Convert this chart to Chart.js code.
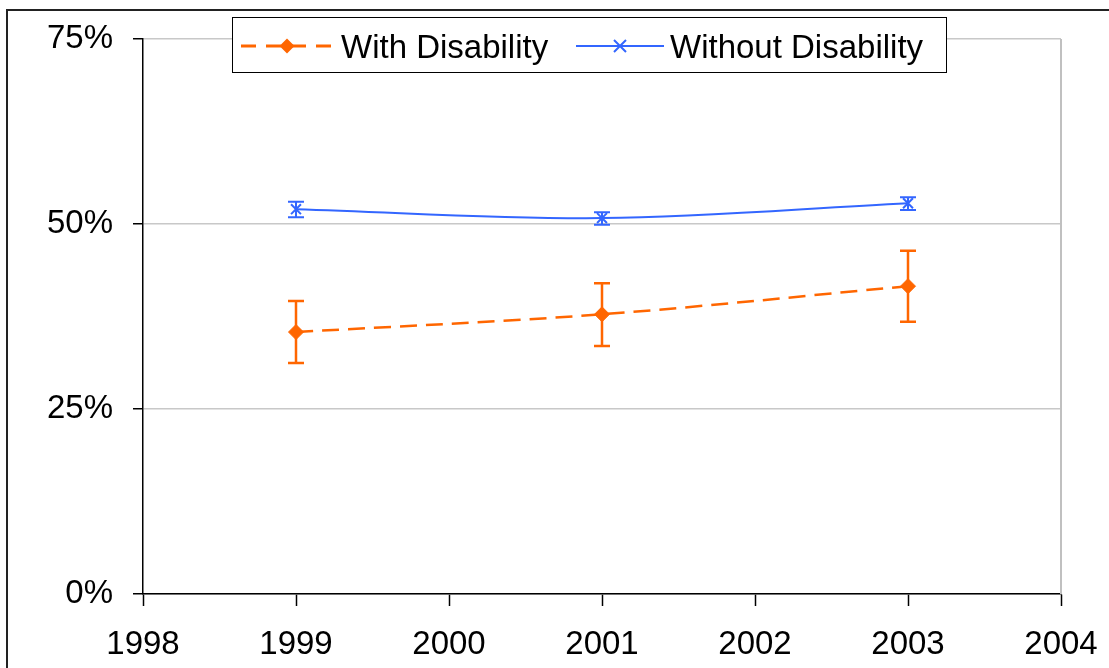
<!DOCTYPE html>
<html>
<head>
<meta charset="utf-8">
<script src="https://cdn.jsdelivr.net/npm/chart.js@4/dist/chart.umd.min.js"></script>
<style>
  html, body { margin: 0; padding: 0; background: #fff; overflow: hidden; }
  #wrap { position: relative; width: 1109px; height: 668px; }
</style>
</head>
<body>
<div id="wrap"><canvas id="c" width="1109" height="668"></canvas></div>
<script>
// Survey years and percentages (with 95% confidence limits)
const years = [1999, 2001, 2003];
const withDisability = [35.4, 37.8, 41.6];
const withLow = [31.2, 33.5, 36.8];
const withHigh = [39.6, 42.0, 46.4];
const withoutDisability = [52.0, 50.8, 52.8];
const withoutLow = [50.9, 49.9, 51.9];
const withoutHigh = [53.0, 51.6, 53.6];
const seriesNames = ['With Disability', 'Without Disability'];
const yTicks = [0, 25, 50, 75];
const xTicks = [1998, 1999, 2000, 2001, 2002, 2003, 2004];

const ORANGE = '#FF6600';
const BLUE = '#3366FF';
const FONT = '"Liberation Sans", Arial, Helvetica, sans-serif';

Chart.defaults.font.family = FONT;
Chart.defaults.font.size = 33;
Chart.defaults.color = '#000';

const toPoints = vals => years.map((yr, i) => ({ x: yr, y: vals[i] }));

// Vertical error bars with caps, drawn beneath the markers
const errorBars = {
  id: 'errorBars',
  beforeDatasetsDraw(chart) {
    const { ctx, scales: { x, y }, chartArea } = chart;
    ctx.save();
    // grey plot-area frame on the right
    ctx.strokeStyle = '#c0c0c0';
    ctx.lineWidth = 2;
    ctx.beginPath();
    ctx.moveTo(chartArea.right, chartArea.top);
    ctx.lineTo(chartArea.right, chartArea.bottom);
    ctx.stroke();
    chart.data.datasets.forEach(ds => {
      ctx.strokeStyle = ds.borderColor;
      ctx.lineWidth = ds.errWidth;
      ctx.setLineDash([]);
      years.forEach((yr, i) => {
        const px = x.getPixelForValue(yr);
        const top = y.getPixelForValue(ds.errHigh[i]);
        const bot = y.getPixelForValue(ds.errLow[i]);
        const cap = 8;
        ctx.beginPath();
        ctx.moveTo(px, top); ctx.lineTo(px, bot);
        ctx.moveTo(px - cap, top); ctx.lineTo(px + cap, top);
        ctx.moveTo(px - cap, bot); ctx.lineTo(px + cap, bot);
        ctx.stroke();
      });
    });
    ctx.restore();
  }
};

function diamond(ctx, cx, cy, r, color) {
  ctx.beginPath();
  ctx.moveTo(cx, cy - r); ctx.lineTo(cx + r, cy);
  ctx.lineTo(cx, cy + r); ctx.lineTo(cx - r, cy);
  ctx.closePath();
  ctx.fillStyle = color; ctx.fill();
}
function cross(ctx, cx, cy, r, color, w) {
  ctx.beginPath();
  ctx.moveTo(cx - r, cy - r); ctx.lineTo(cx + r, cy + r);
  ctx.moveTo(cx - r, cy + r); ctx.lineTo(cx + r, cy - r);
  ctx.strokeStyle = color; ctx.lineWidth = w; ctx.stroke();
}

// Boxed legend over the top of the plot, and the outer frame
const boxLegend = {
  id: 'boxLegend',
  afterDraw(chart) {
    const { ctx } = chart;
    const ds = chart.data.datasets;
    ctx.save();
    ctx.fillStyle = '#fff';
    ctx.fillRect(232, 17, 714, 55);
    ctx.strokeStyle = '#000';
    ctx.lineWidth = 1;
    ctx.strokeRect(232.5, 17.5, 714, 55);

    const ly = 46;
    // first entry: dashed line with diamond
    ctx.strokeStyle = ds[0].borderColor;
    ctx.lineWidth = 3;
    ctx.setLineDash([15, 10]);
    ctx.beginPath(); ctx.moveTo(241, ly); ctx.lineTo(332, ly); ctx.stroke();
    ctx.setLineDash([]);
    diamond(ctx, 287, ly, 7.5, ds[0].borderColor);

    // second entry: solid line with x marker
    ctx.strokeStyle = ds[1].borderColor;
    ctx.lineWidth = 2;
    ctx.beginPath(); ctx.moveTo(576, ly); ctx.lineTo(664, ly); ctx.stroke();
    cross(ctx, 620, ly, 6, ds[1].borderColor, 2);

    ctx.fillStyle = '#000';
    ctx.font = '33px ' + FONT;
    ctx.textBaseline = 'alphabetic';
    ctx.textAlign = 'left';
    ctx.fillText(ds[0].label, 341, 58);
    ctx.fillText(ds[1].label, 670, 58);

    // outer frame
    ctx.strokeStyle = '#222';
    ctx.lineWidth = 2;
    ctx.beginPath();
    ctx.moveTo(7, 668); ctx.lineTo(7, 10); ctx.lineTo(1109, 10);
    ctx.stroke();
    ctx.restore();
  }
};

new Chart(document.getElementById('c'), {
  type: 'line',
  data: {
    datasets: [
      {
        label: seriesNames[0],
        data: toPoints(withDisability),
        errLow: withLow, errHigh: withHigh, errWidth: 2.5,
        borderColor: ORANGE, borderWidth: 2.5, borderDash: [17, 9],
        tension: 0.35,
        pointStyle: 'rectRot', pointRadius: 7.5, pointHoverRadius: 7.5,
        pointBackgroundColor: ORANGE, pointBorderColor: ORANGE, pointBorderWidth: 1
      },
      {
        label: seriesNames[1],
        data: toPoints(withoutDisability),
        errLow: withoutLow, errHigh: withoutHigh, errWidth: 2,
        borderColor: BLUE, borderWidth: 2,
        tension: 0.35,
        pointStyle: 'crossRot', pointRadius: 7, pointHoverRadius: 7,
        pointBackgroundColor: BLUE, pointBorderColor: BLUE, pointBorderWidth: 2
      }
    ]
  },
  options: {
    responsive: false,
    animation: false,
    events: [],
    layout: { padding: { left: 0, top: 39, right: 48, bottom: 0 } },
    plugins: { legend: { display: false }, tooltip: { enabled: false } },
    scales: {
      x: {
        type: 'linear', min: 1998, max: 2004,
        afterBuildTicks: s => { s.ticks = xTicks.map(v => ({ value: v })); },
        afterFit: s => { s.height = 74; s.paddingLeft = 0; s.paddingRight = 0; },
        ticks: { callback: v => String(v), padding: 19, maxRotation: 0, autoSkip: false,
                 font: { size: 33 }, color: '#000' },
        grid: { drawOnChartArea: false, drawTicks: true, tickLength: 12,
                tickColor: '#000', tickWidth: 1.5 },
        border: { display: true, color: '#000', width: 1.5 }
      },
      y: {
        type: 'linear', min: 0, max: 75,
        afterBuildTicks: s => { s.ticks = yTicks.map(v => ({ value: v })); },
        afterFit: s => { s.width = 143; s.paddingTop = 0; s.paddingBottom = 0; },
        ticks: { callback: v => v + '%', padding: 20, font: { size: 33 }, color: '#000' },
        grid: { color: '#c8c8c8', lineWidth: 1.5, drawTicks: true, tickLength: 10,
                tickColor: '#000', tickWidth: 1.5 },
        border: { display: true, color: '#000', width: 1.5 }
      }
    }
  },
  plugins: [errorBars, boxLegend]
});
</script>
</body>
</html>
